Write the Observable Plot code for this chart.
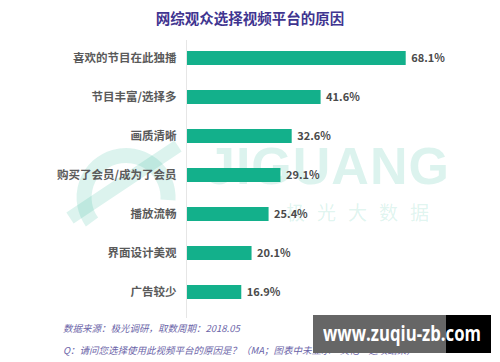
<!DOCTYPE html>
<html>
<head>
<meta charset="utf-8">
<script src="https://cdn.jsdelivr.net/npm/d3@7"></script>
<script src="https://cdn.jsdelivr.net/npm/@observablehq/plot@0.6"></script>
<style>
  html, body { margin: 0; padding: 0; background: #fff; }
  #wrap { position: relative; width: 500px; height: 362px; overflow: hidden; font-family: "Noto Sans CJK SC", "Noto Sans", sans-serif; }
  #wrap svg.plot { position: absolute; left: 0; top: 0; background: transparent; }
  .abs { position: absolute; white-space: nowrap; }
  #logo { left: 0; top: 0; }
  #title { left: 0; width: 500px; top: 7px; text-align: center; font-size: 14.5px; font-weight: 700; color: #3f3590; }
  #wm1 { left: 206px; top: 136px; font-size: 52px; font-weight: 700; color: rgba(20,176,138,0.15); font-family: "Liberation Sans", sans-serif; letter-spacing: 1px; }
  #wm2 { left: 286px; top: 198px; font-size: 19px; color: rgba(20,176,138,0.15); letter-spacing: 12px; }
  #src { left: 63px; top: 321px; font-size: 9.5px; font-style: italic; color: #6b64a8; }
  #q { left: 63px; top: 343px; font-size: 9.5px; font-style: italic; color: #6b64a8; }
  #box { left: 313px; top: 315px; width: 178px; height: 38px; background: linear-gradient(to right, #666 0, #666 133px, #000 133px); }
  #boxtxt { left: 323px; top: 320px; font-size: 21px; font-weight: 700; color: #fff; font-family: "Open Sans", sans-serif; transform-origin: 0 0; line-height: 26px; }
</style>
</head>
<body>
<div id="wrap">
  <svg class="abs" id="logo" width="500" height="362">
    <g fill="none" stroke="rgba(20,176,138,0.15)" stroke-width="15">
      <path d="M 92 222 A 42 42 0 1 1 168 200"/>
      <path d="M 70 218 L 178 146" stroke-width="13"/>
    </g>
  </svg>
  <div class="abs" id="wm1">JIGUANG</div>
  <div class="abs" id="wm2">极光大数据</div>
  <div class="abs" id="title"></div>
  <div class="abs" id="src"></div>
  <div class="abs" id="q"></div>
  <div class="abs" id="box"></div>
  <div class="abs" id="boxtxt"></div>
</div>
<script>
const titleText = "网综观众选择视频平台的原因";
const categories = ["喜欢的节目在此独播", "节目丰富/选择多", "画质清晰", "购买了会员/成为了会员", "播放流畅", "界面设计美观", "广告较少"];
const values = [68.1, 41.6, 32.6, 29.1, 25.4, 20.1, 16.9];
const valueLabels = ["68.1%", "41.6%", "32.6%", "29.1%", "25.4%", "20.1%", "16.9%"];
const sourceText = "数据来源：极光调研，取数周期：2018.05";
const questionText = "Q：请问您选择使用此视频平台的原因是？（MA；图表中未显示\u201c其他\u201d选项结果）";
const watermarkText = "www.zuqiu-zb.com";

const data = categories.map((c, i) => ({cat: c, value: values[i], label: valueLabels[i]}));

document.getElementById("title").textContent = titleText;
document.getElementById("src").textContent = sourceText;
document.getElementById("q").textContent = questionText;
const bt = document.getElementById("boxtxt");
bt.textContent = watermarkText;

const chart = Plot.plot({
  className: "plot",
  width: 500,
  height: 362,
  marginTop: 40,
  marginBottom: 44,
  marginLeft: 187,
  marginRight: 0,
  style: {background: "transparent", fontFamily: "'Noto Sans CJK SC', sans-serif"},
  x: {domain: [0, 68.1], range: [187, 405.7], axis: null},
  y: {domain: categories, range: [23.3, 326.7], padding: 0.647, axis: null},
  marks: [
    Plot.ruleX([0], {stroke: "#e6e6e6", strokeWidth: 1, dx: -1}),
    Plot.barX(data, {x: "value", y: "cat", fill: "#13b08b"}),
    Plot.text(data, {x: 0, y: "cat", text: "cat", textAnchor: "end", dx: -11, fontSize: 11.5, fontWeight: 700, fill: "#5a5a5a"}),
    Plot.text(data, {x: "value", y: "cat", text: "label", textAnchor: "start", dx: 5, fontSize: 11, fontWeight: 700, fill: "#4a4a4a"})
  ]
});
chart.classList.add("plot");
document.getElementById("wrap").insertBefore(chart, document.getElementById("title"));

const w = bt.getBoundingClientRect().width;
if (w > 0) bt.style.transform = `scaleX(${Math.min(1, 158 / w)})`;
</script>
</body>
</html>
